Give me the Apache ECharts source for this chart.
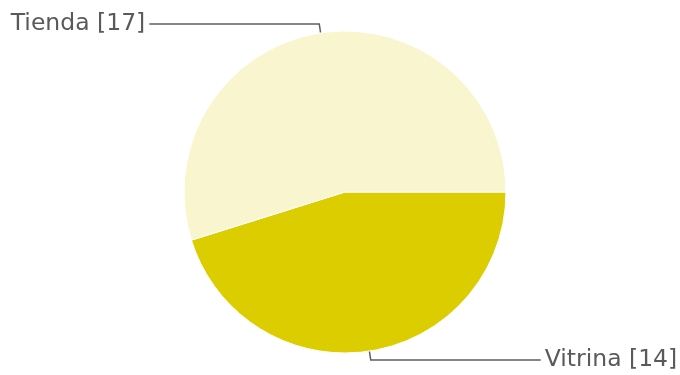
<!DOCTYPE html>
<html>
<head>
<meta charset="utf-8">
<script src="https://cdn.jsdelivr.net/npm/echarts@6/dist/echarts.min.js"></script>
<style>html,body{margin:0;padding:0;background:#fff}#c{width:680px;height:375px}</style>
</head>
<body>
<div id="c"></div>
<script>
var categories = ['Vitrina', 'Tienda'];
var values = [14, 17];
var colors = ['#dccd00', '#f9f6cf'];

var chart = echarts.init(document.getElementById('c'), null, {renderer: 'canvas'});
var data = categories.map(function (c, i) {
  return {
    name: c,
    value: values[i],
    itemStyle: {color: colors[i]}
  };
});
chart.setOption({
  animation: false,
  series: [{
    type: 'pie',
    center: [345, 192],
    radius: [0, 161],
    startAngle: 0,
    clockwise: true,
    avoidLabelOverlap: false,
    itemStyle: {borderColor: '#ffffff', borderWidth: 1},
    label: {
      formatter: '{b} [{c}]',
      color: '#5a5a5a',
      fontFamily: 'DejaVu Sans, sans-serif',
      fontSize: 23.5,
      distanceToLabelLine: 4
    },
    labelLine: {
      show: true,
      length: 9,
      length2: 170,
      lineStyle: {color: '#5f5f5f', width: 1.5}
    },
    emphasis: {disabled: true},
    data: data
  }]
});
</script>
</body>
</html>
